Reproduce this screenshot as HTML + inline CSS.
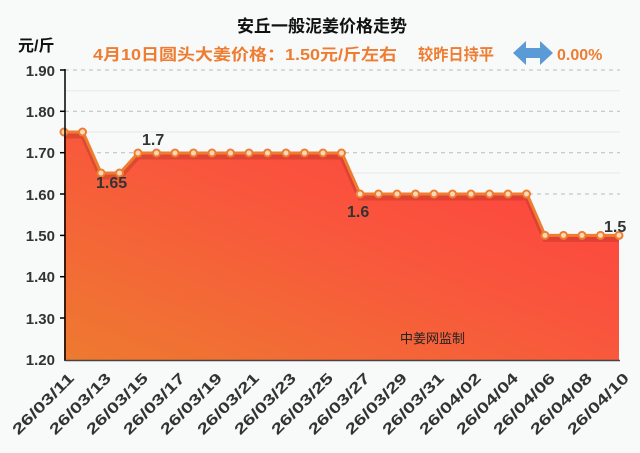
<!DOCTYPE html>
<html><head><meta charset="utf-8"><style>
html,body{margin:0;padding:0;background:#f8f9f9;}
svg{display:block;font-family:"Liberation Sans","Noto Sans CJK SC",sans-serif;}
</style></head><body>
<svg width="640" height="453" viewBox="0 0 640 453">
<defs>
<linearGradient id="g" x1="0" y1="1" x2="1" y2="0">
<stop offset="0" stop-color="#ee7a30"/>
<stop offset="0.55" stop-color="#f9553d"/>
<stop offset="1" stop-color="#ff3f3f"/>
</linearGradient>
</defs>
<rect width="640" height="453" fill="#f8f9f9"/>
<text x="322" y="32" font-size="17" font-weight="bold" text-anchor="middle" fill="#111">安丘一般泥姜价格走势</text>
<text x="18" y="51" font-size="16" font-weight="bold" fill="#111">元/斤</text>
<text x="93" y="60" font-size="16" font-weight="bold" fill="#ee7d31" textLength="304" lengthAdjust="spacingAndGlyphs">4月10日圆头大姜价格：1.50元/斤左右</text>
<text x="418" y="60" font-size="16" font-weight="bold" fill="#ee7d31" textLength="76" lengthAdjust="spacingAndGlyphs">较昨日持平</text>
<polygon points="513,53 526,41 526,48 540,48 540,41 553,53 540,65 540,58 526,58 526,65" fill="#5b9bd5"/>
<text x="557" y="60" font-size="16" font-weight="bold" fill="#ee7d31">0.00%</text>
<g id="grid">
<line x1="65" y1="70" x2="620" y2="70" stroke="#bbb" stroke-dasharray="4,4"/>
<line x1="65" y1="111.3" x2="620" y2="111.3" stroke="#bbb" stroke-dasharray="4,4"/>
<line x1="65" y1="152.7" x2="620" y2="152.7" stroke="#bbb" stroke-dasharray="4,4"/>
<line x1="65" y1="194" x2="620" y2="194" stroke="#bbb" stroke-dasharray="4,4"/>
<line x1="65" y1="90.7" x2="620" y2="90.7" stroke="#e8e8e8"/>
<line x1="65" y1="132" x2="620" y2="132" stroke="#e8e8e8"/>
<line x1="65" y1="173" x2="620" y2="173" stroke="#e8e8e8"/>
</g>
<polygon fill="url(#g)" points="64,132 83,132 101,173 120,173 138,153 323,153 342,153 360,194 527,194 545,235.4 619,235.4 619,360 64,360"/>
<polyline fill="none" stroke="#b02a20" stroke-opacity="0.35" stroke-width="5" points="64,136 83,136 101,177 120,177 138,157 342,157 360,198 527,198 545,239.4 619,239.4"/>
<polyline fill="none" stroke="#ee7d31" stroke-width="3" points="64,132 83,132 101,173 120,173 138,153 342,153 360,194 527,194 545,235.4 619,235.4"/>
<g fill="#fbd9b8" stroke="#ee7d31" stroke-width="2">
<circle cx="64" cy="132" r="3.5"/><circle cx="82.5" cy="132" r="3.5"/>
<circle cx="101" cy="173" r="3.5"/><circle cx="119.5" cy="173" r="3.5"/>
<circle cx="138" cy="153" r="3.5"/><circle cx="156.5" cy="153" r="3.5"/><circle cx="175" cy="153" r="3.5"/><circle cx="193.5" cy="153" r="3.5"/><circle cx="212" cy="153" r="3.5"/><circle cx="230.5" cy="153" r="3.5"/><circle cx="249" cy="153" r="3.5"/><circle cx="267.5" cy="153" r="3.5"/><circle cx="286" cy="153" r="3.5"/><circle cx="304.5" cy="153" r="3.5"/><circle cx="323" cy="153" r="3.5"/><circle cx="341.5" cy="153" r="3.5"/>
<circle cx="360" cy="194" r="3.5"/><circle cx="378.5" cy="194" r="3.5"/><circle cx="397" cy="194" r="3.5"/><circle cx="415.5" cy="194" r="3.5"/><circle cx="434" cy="194" r="3.5"/><circle cx="452.5" cy="194" r="3.5"/><circle cx="471" cy="194" r="3.5"/><circle cx="489.5" cy="194" r="3.5"/><circle cx="508" cy="194" r="3.5"/><circle cx="526.5" cy="194" r="3.5"/>
<circle cx="545" cy="235.4" r="3.5"/><circle cx="563.5" cy="235.4" r="3.5"/><circle cx="582" cy="235.4" r="3.5"/><circle cx="600.5" cy="235.4" r="3.5"/><circle cx="619" cy="235.4" r="3.5"/>
</g>
<g font-size="16" fill="#333" font-weight="bold">
<text x="142" y="145">1.7</text>
<text x="96" y="188">1.65</text>
<text x="347" y="217">1.6</text>
<text x="604" y="232">1.5</text>
</g>
<text x="400" y="343" font-size="13" fill="#222">中姜网监制</text>
<line x1="65" y1="69" x2="65" y2="361" stroke="#000" stroke-width="1.5"/>
<line x1="65" y1="360.5" x2="620" y2="360.5" stroke="#444" stroke-width="1.5"/>
<g stroke="#000" stroke-width="1.5">
<line x1="60" y1="70" x2="65" y2="70"/><line x1="60" y1="111.3" x2="65" y2="111.3"/><line x1="60" y1="152.7" x2="65" y2="152.7"/><line x1="60" y1="194" x2="65" y2="194"/><line x1="60" y1="235.4" x2="65" y2="235.4"/><line x1="60" y1="276.7" x2="65" y2="276.7"/><line x1="60" y1="318" x2="65" y2="318"/>
</g>
<g font-size="15" font-weight="bold" fill="#333" text-anchor="end">
<text x="55" y="76">1.90</text><text x="55" y="117">1.80</text><text x="55" y="158">1.70</text><text x="55" y="200">1.60</text><text x="55" y="241">1.50</text><text x="55" y="282">1.40</text><text x="55" y="324">1.30</text><text x="55" y="365">1.20</text>
</g>
<g font-size="15" font-weight="bold" fill="#333" text-anchor="end">
<text transform="translate(75,379) rotate(-45)" textLength="80" lengthAdjust="spacingAndGlyphs">26/03/11</text>
<text transform="translate(112,379) rotate(-45)" textLength="80" lengthAdjust="spacingAndGlyphs">26/03/13</text>
<text transform="translate(149,379) rotate(-45)" textLength="80" lengthAdjust="spacingAndGlyphs">26/03/15</text>
<text transform="translate(186,379) rotate(-45)" textLength="80" lengthAdjust="spacingAndGlyphs">26/03/17</text>
<text transform="translate(223,379) rotate(-45)" textLength="80" lengthAdjust="spacingAndGlyphs">26/03/19</text>
<text transform="translate(260,379) rotate(-45)" textLength="80" lengthAdjust="spacingAndGlyphs">26/03/21</text>
<text transform="translate(297,379) rotate(-45)" textLength="80" lengthAdjust="spacingAndGlyphs">26/03/23</text>
<text transform="translate(334,379) rotate(-45)" textLength="80" lengthAdjust="spacingAndGlyphs">26/03/25</text>
<text transform="translate(371,379) rotate(-45)" textLength="80" lengthAdjust="spacingAndGlyphs">26/03/27</text>
<text transform="translate(408,379) rotate(-45)" textLength="80" lengthAdjust="spacingAndGlyphs">26/03/29</text>
<text transform="translate(445,379) rotate(-45)" textLength="80" lengthAdjust="spacingAndGlyphs">26/03/31</text>
<text transform="translate(482,379) rotate(-45)" textLength="80" lengthAdjust="spacingAndGlyphs">26/04/02</text>
<text transform="translate(519,379) rotate(-45)" textLength="80" lengthAdjust="spacingAndGlyphs">26/04/04</text>
<text transform="translate(556,379) rotate(-45)" textLength="80" lengthAdjust="spacingAndGlyphs">26/04/06</text>
<text transform="translate(593,379) rotate(-45)" textLength="80" lengthAdjust="spacingAndGlyphs">26/04/08</text>
<text transform="translate(630,379) rotate(-45)" textLength="80" lengthAdjust="spacingAndGlyphs">26/04/10</text>
</g>
</svg>
</body></html>
